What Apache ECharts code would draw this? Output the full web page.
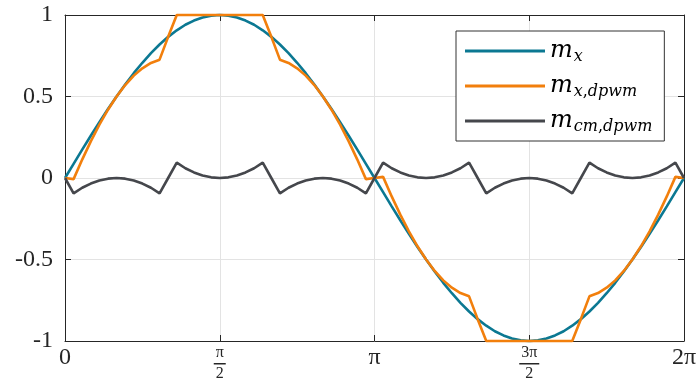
<!DOCTYPE html>
<html>
<head>
<meta charset="utf-8">
<script src="https://cdn.jsdelivr.net/npm/echarts@6/dist/echarts.min.js"></script>
<style>
  html, body { margin: 0; padding: 0; background: #ffffff; }
  #chart { width: 700px; height: 390px; }
</style>
</head>
<body>
<div id="chart"></div>
<script>
// Electrical angle in degrees (0 .. 360, 5° steps)
const angleDeg = [
  0, 5, 10, 15, 20, 25, 30, 35, 40, 45, 50, 55, 60, 65, 70, 75, 80, 85, 90,
  95, 100, 105, 110, 115, 120, 125, 130, 135, 140, 145, 150, 155, 160, 165, 170, 175, 180,
  185, 190, 195, 200, 205, 210, 215, 220, 225, 230, 235, 240, 245, 250, 255, 260, 265, 270,
  275, 280, 285, 290, 295, 300, 305, 310, 315, 320, 325, 330, 335, 340, 345, 350, 355, 360
];

// Sinusoidal modulation signal m_x
const mX = [
  0, 0.087, 0.174, 0.259, 0.342, 0.423, 0.5, 0.574, 0.643, 0.707, 0.766, 0.819, 0.866, 0.906, 0.940, 0.966, 0.985, 0.996, 1,
  0.996, 0.985, 0.966, 0.940, 0.906, 0.866, 0.819, 0.766, 0.707, 0.643, 0.574, 0.5, 0.423, 0.342, 0.259, 0.174, 0.087, 0,
  -0.087, -0.174, -0.259, -0.342, -0.423, -0.5, -0.574, -0.643, -0.707, -0.766, -0.819, -0.866, -0.906, -0.940, -0.966, -0.985, -0.996, -1,
  -0.996, -0.985, -0.966, -0.940, -0.906, -0.866, -0.819, -0.766, -0.707, -0.643, -0.574, -0.5, -0.423, -0.342, -0.259, -0.174, -0.087, 0
];

// Discontinuous PWM modulation signal m_x,dpwm
const mXDpwm = [
  0, -0.007, 0.113, 0.225, 0.327, 0.419, 0.5, 0.570, 0.628, 0.673, 0.706, 0.726, 0.866, 1, 1, 1, 1, 1, 1,
  1, 1, 1, 1, 1, 0.866, 0.726, 0.706, 0.673, 0.628, 0.570, 0.5, 0.419, 0.327, 0.225, 0.113, -0.007, 0,
  0.007, -0.113, -0.225, -0.327, -0.419, -0.5, -0.570, -0.628, -0.673, -0.706, -0.726, -0.866, -1, -1, -1, -1, -1, -1,
  -1, -1, -1, -1, -1, -0.866, -0.726, -0.706, -0.673, -0.628, -0.570, -0.5, -0.419, -0.327, -0.225, -0.113, 0.007, 0
];

// Common-mode injection m_cm,dpwm
const mCmDpwm = [
  0, -0.094, -0.060, -0.034, -0.015, -0.004, 0, -0.004, -0.015, -0.034, -0.060, -0.094, 0, 0.094, 0.060, 0.034, 0.015, 0.004, 0,
  0.004, 0.015, 0.034, 0.060, 0.094, 0, -0.094, -0.060, -0.034, -0.015, -0.004, 0, -0.004, -0.015, -0.034, -0.060, -0.094, 0,
  0.094, 0.060, 0.034, 0.015, 0.004, 0, 0.004, 0.015, 0.034, 0.060, 0.094, 0, -0.094, -0.060, -0.034, -0.015, -0.004, 0,
  -0.004, -0.015, -0.034, -0.060, -0.094, 0, 0.094, 0.060, 0.034, 0.015, 0.004, 0, 0.004, 0.015, 0.034, 0.060, 0.094, 0
];

// Tick labels along the angle axis (every 90°); fractions are numerator / gap / denominator
const xTickValues = [0, 90, 180, 270, 360];
const xTickLabels = ['{v|0}', '{n|π}\n{g| }\n{d|2}', '{v|π}', '{n|3π}\n{g| }\n{d|2}', '{v|2π}'];
// Ticks whose label is a fraction, with the half-width of the fraction bar
const fractionTicks = [90, 270];
const fractionBarHalf = [6, 10];

// Legend entries: base symbol and subscript separated by "_"
const seriesNames = ['m_x', 'm_x,dpwm', 'm_cm,dpwm'];
const seriesColors = ['#0b7892', '#f27f0c', '#45474c'];
const seriesValues = [mX, mXDpwm, mCmDpwm];

const axisColor = '#262626';
const gridColor = '#e3e3e3';
const serif = 'Liberation Serif';
const mathFont = 'DejaVu Serif';

// Latin letters to their mathematical italic code points
const mathItalic = s => Array.from(s).map(ch => {
  const c = ch.charCodeAt(0);
  return (c >= 97 && c <= 122 && ch !== 'h') ? String.fromCodePoint(0x1D44E + c - 97) : ch;
}).join('');

const chart = echarts.init(document.getElementById('chart'), null, { renderer: 'canvas' });

const pairs = v => angleDeg.map((a, i) => [a, v[i]]);

const baseX = {
  type: 'value', min: 0, max: 360, interval: 90,
  axisLine: { show: true, onZero: false, lineStyle: { color: axisColor, width: 1 } },
  axisTick: { show: true, inside: true, length: 6, lineStyle: { color: axisColor } }
};
const baseY = {
  type: 'value', min: -1, max: 1, interval: 0.5,
  axisLine: { show: true, onZero: false, lineStyle: { color: axisColor, width: 1 } },
  axisTick: { show: true, inside: true, length: 6, lineStyle: { color: axisColor } }
};

const labelMargin = 5;

chart.setOption({
  animation: false,
  backgroundColor: '#ffffff',
  grid: { left: 65, right: 16, top: 15, bottom: 49, containLabel: false },
  xAxis: [
    Object.assign({}, baseX, {
      position: 'bottom',
      splitLine: { show: true, lineStyle: { color: gridColor, width: 1 } },
      axisLabel: {
        show: true, margin: labelMargin, interval: 0,
        showMinLabel: true, showMaxLabel: true,
        color: axisColor, fontFamily: serif,
        formatter: v => xTickLabels[xTickValues.indexOf(v)] || '',
        rich: {
          v: { fontSize: 24, lineHeight: 24, fontFamily: serif, color: axisColor },
          n: { fontSize: 16, lineHeight: 14, fontFamily: serif, color: axisColor, align: 'center' },
          g: { fontSize: 6, lineHeight: 6, fontFamily: serif, color: axisColor, align: 'center' },
          d: { fontSize: 16, lineHeight: 16, fontFamily: serif, color: axisColor, align: 'center' }
        }
      }
    }),
    Object.assign({}, baseX, {
      position: 'top',
      splitLine: { show: false },
      axisLabel: { show: false }
    })
  ],
  yAxis: [
    Object.assign({}, baseY, {
      position: 'left',
      splitLine: { show: true, lineStyle: { color: gridColor, width: 1 } },
      axisLabel: { show: true, margin: 12, color: axisColor, fontFamily: serif, fontSize: 24 }
    }),
    Object.assign({}, baseY, {
      position: 'right',
      splitLine: { show: false },
      axisLabel: { show: false }
    })
  ],
  legend: {
    show: true,
    orient: 'vertical',
    left: 456, top: 31,
    padding: [6, 12, 6, 9],
    itemGap: 7,
    itemWidth: 80, itemHeight: 3,
    icon: 'rect',
    backgroundColor: '#ffffff',
    borderColor: '#333333', borderWidth: 1, borderRadius: 0,
    data: seriesNames,
    formatter: name => {
      const k = name.indexOf('_');
      return '{m|' + mathItalic(name.slice(0, k)) + '}{s|' + mathItalic(name.slice(k + 1)) + '}';
    },
    textStyle: {
      color: '#000000',
      fontFamily: mathFont,
      fontSize: 24,
      rich: {
        m: { fontSize: 24, lineHeight: 26, fontFamily: mathFont, color: '#000000' },
        s: { fontSize: 16, lineHeight: 26, fontFamily: mathFont, color: '#000000', padding: [12, 0, 0, 1] }
      }
    }
  },
  series: seriesNames.map((name, i) => ({
    name: name,
    type: 'line',
    xAxisIndex: 0, yAxisIndex: 0,
    data: pairs(seriesValues[i]),
    showSymbol: false,
    symbol: 'none',
    clip: false,
    color: seriesColors[i],
    lineStyle: { color: seriesColors[i], width: 2.6 },
    z: 2 + i
  }))
});

// Fraction bars under the π/2 and 3π/2 tick labels, placed from the first series' coordinate system
const barElements = fractionTicks.map((t, i) => {
  const p = chart.convertToPixel({ seriesIndex: 0 }, [t, -1]);
  const y = Math.round(p[1] + labelMargin + 17);
  return {
    type: 'rect',
    silent: true,
    z: 100,
    shape: { x: p[0] - fractionBarHalf[i], y: y, width: 2 * fractionBarHalf[i], height: 1.5 },
    style: { fill: axisColor }
  };
});
chart.setOption({ graphic: barElements });
</script>
</body>
</html>
